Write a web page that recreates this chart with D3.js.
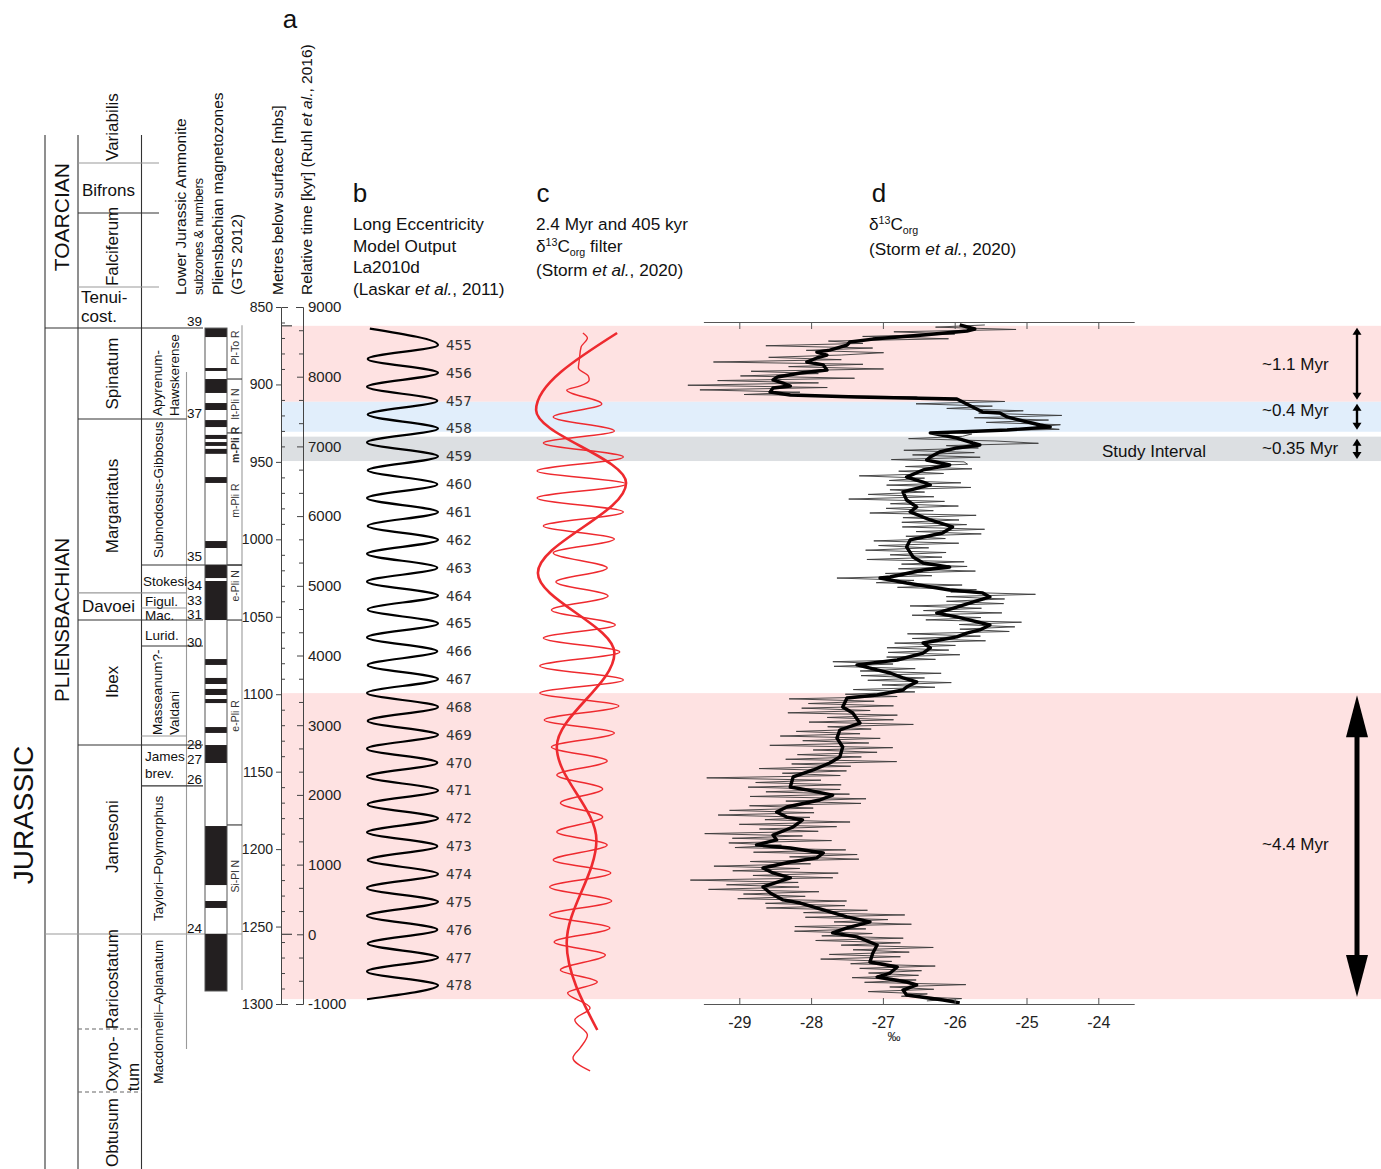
<!DOCTYPE html>
<html><head><meta charset="utf-8">
<script src="https://cdn.jsdelivr.net/npm/d3@7"></script>
<style>
body{margin:0;background:#fff}
svg{display:block}
text{font-family:"Liberation Sans",Arial,Helvetica,sans-serif;fill:#111}
</style>
</head><body>
<svg id="fig" width="1381" height="1169"></svg>
<script>
// ---------------- data ----------------
// shaded intervals (relative time, kyr)
const bandTop    = [8730, 7640, 7140, 3460];
const bandBottom = [7640, 7210, 6790, -930];
const bandKind   = ["pink", "blue", "grey", "pink"];
const bandLabel  = ["~1.1 Myr", "~0.4 Myr", "~0.35 Myr", "~4.4 Myr"];

// depth axis (metres below surface) and relative time axis (kyr)
const depthTicks = [850, 900, 950, 1000, 1050, 1100, 1150, 1200, 1250, 1300];
const timeTicks  = [9000, 8000, 7000, 6000, 5000, 4000, 3000, 2000, 1000, 0, -1000];

// long eccentricity (La2010d): 405-kyr cycle numbers, maxima and minima (normalised)
const eccCycle     = [455,456,457,458,459,460,461,462,463,464,465,466,467,468,469,470,471,472,473,474,475,476,477,478];
const eccPeakKyr   = [8455,8055,7656,7257,6857,6458,6058,5659,5259,4860,4460,4061,3662,3262,2863,2463,2064,1664,1265,866,466,67,-333,-732];
const eccPeakVal   = [1.0,1.0,0.99,1.0,1.0,0.99,1.0,1.0,0.99,1.0,1.0,0.99,1.0,1.0,1.0,0.99,1.0,1.0,0.99,1.0,1.0,0.99,1.0,1.0];
const eccTroughKyr = [8690,8255,7855,7456,7057,6657,6258,5858,5459,5059,4660,4260,3861,3462,3062,2663,2263,1864,1464,1065,666,266,-133,-532,-932];
const eccTroughVal = [0.04,0.01,0.0,0.01,0.0,0.01,0.0,0.01,0.0,0.0,0.01,0.0,0.01,0.0,0.01,0.0,0.0,0.01,0.0,0.01,0.0,0.0,0.01,0.0,0.0];

// 2.4 Myr filter of d13C_org
const f24Kyr = [8627, 7522, 6475, 5184, 4036, 2687, 1353, -125, -1373];
const f24Val = [0.39, -0.51, 0.49, -0.49, 0.36, -0.28, 0.16, -0.17, 0.17];

// 405 kyr filter of d13C_org
const f405Kyr = [8627,8555,8426,8240,8125,8010,7953,7867,7809,7608,7422,7221,7049,6848,6647,6461,6260,6059,5858,5671,5471,5255,5055,4854,4653,4438,4251,4050,3849,3649,3462,3276,3075,2888,2687,2487,2286,2085,1884,1683,1468,1281,1066,880,679,478,277,91,-110,-297,-512,-684,-842,-1057,-1229,-1445,-1631,-1774,-1961];
const f405Val = [0.01,0.06,-0.01,-0.03,-0.04,0.07,0.08,-0.02,-0.17,0.22,-0.32,0.36,-0.43,0.46,-0.50,0.49,-0.50,0.46,-0.43,0.36,-0.32,0.28,-0.29,0.29,-0.34,0.37,-0.43,0.42,-0.47,0.46,-0.47,0.41,-0.42,0.36,-0.34,0.28,-0.28,0.23,-0.24,0.23,-0.28,0.28,-0.32,0.32,-0.36,0.33,-0.36,0.31,-0.31,0.26,-0.24,0.17,-0.16,0.09,-0.08,0.06,-0.02,-0.10,0.09];

// d13C_org smoothed record (depth m, permil)
const isoDepth = [861.6,864.2,865.5,868.1,870.7,872.6,874.6,877.8,879.1,881.0,882.9,885.5,887.4,890.7,892.6,895.2,897.1,899.1,901.0,902.3,904.9,906.8,908.1,909.4,914.6,917.8,918.4,921.0,926.2,927.5,929.4,930.7,931.3,934.6,937.8,939.1,941.0,943.6,946.8,948.8,952.0,955.2,959.8,963.0,964.9,969.4,974.6,979.1,982.3,987.5,992.0,995.9,1000.4,1004.9,1011.4,1015.3,1017.9,1019.8,1024.3,1025.0,1028.2,1032.7,1034.6,1037.2,1040.5,1043.7,1047.6,1050.1,1055.3,1058.5,1060.5,1063.0,1065.0,1066.9,1070.1,1073.4,1077.9,1079.8,1081.1,1084.3,1086.3,1089.5,1092.1,1095.3,1097.3,1100.5,1102.4,1108.2,1112.1,1118.6,1123.1,1128.3,1134.1,1140.5,1144.4,1148.9,1153.4,1159.9,1161.8,1165.1,1168.3,1172.8,1176.0,1179.3,1181.2,1185.7,1190.9,1194.1,1197.3,1199.3,1202.5,1205.7,1208.3,1212.2,1215.4,1218.6,1224.4,1228.3,1232.8,1234.8,1239.3,1243.8,1247.0,1250.9,1254.1,1256.7,1261.9,1267.1,1272.9,1276.1,1280.0,1282.6,1285.8,1287.7,1291.0,1294.2,1297.4,1299.3];
const isoVal = [-25.93,-25.72,-25.83,-26.44,-27.14,-27.46,-27.50,-27.74,-27.92,-27.78,-27.92,-28.06,-27.83,-27.78,-28.15,-28.47,-28.53,-28.39,-28.29,-28.53,-28.57,-28.29,-27.36,-25.97,-25.75,-25.61,-25.37,-25.27,-24.81,-24.67,-25.27,-25.97,-26.34,-25.97,-25.75,-25.65,-25.97,-26.21,-26.34,-26.39,-26.07,-26.44,-26.67,-26.44,-26.34,-26.72,-26.67,-26.53,-26.62,-26.34,-26.03,-26.17,-26.62,-26.67,-26.58,-26.44,-26.07,-26.44,-26.90,-27.04,-26.67,-26.07,-25.61,-25.51,-25.75,-25.97,-26.25,-25.97,-25.51,-25.65,-25.83,-25.97,-26.21,-26.44,-26.34,-26.44,-26.80,-27.14,-27.36,-27.08,-26.90,-26.72,-26.53,-26.67,-26.72,-27.08,-27.50,-27.56,-27.42,-27.32,-27.60,-27.64,-27.56,-27.60,-27.74,-27.97,-28.25,-28.29,-28.06,-27.70,-27.88,-28.34,-28.48,-28.34,-28.12,-28.25,-28.53,-28.48,-28.76,-28.29,-27.83,-27.92,-28.29,-28.67,-28.53,-28.29,-28.67,-28.57,-28.39,-28.15,-27.83,-27.50,-27.18,-27.50,-27.70,-27.36,-27.08,-27.14,-27.18,-26.80,-26.90,-27.08,-26.67,-26.53,-26.72,-26.67,-26.16,-25.93];

// raw d13C_org measurements, as departures (permil) from the smoothed record, every 1.5 m from 861.5 m
const rawStart = 861.5, rawStep = 1.5;
const rawResid = [
 0.35,-0.45,0.6,-0.9,0.3,-0.6,1.0,-0.4,0.2,-1.1,0.5,-0.3,0.9,0.2,-0.7,0.4,-1.3,0.6,-0.5,0.8,-0.9,0.3,-0.6,1.1,-0.8,0.5,-1.4,0.7,-1.0,0.4,-0.6,0.9,-0.5,
 0.6,-0.7,0.3,-0.4,0.6,-0.3,0.8,-0.5,0.4,-0.6,0.3,-0.2,0.6,-0.3,0.5,0.2,-0.7,0.4,0.9,-0.4,0.3,-0.6,0.5,-0.3,0.7,-0.5,0.4,
 0.3,-0.5,0.6,-0.3,0.4,-0.7,0.2,-0.4,0.5,-0.6,0.7,-0.3,0.3,-0.5,0.4,-0.8,0.5,-0.3,0.6,-0.4,
 0.3,-0.6,0.8,-0.3,0.4,-0.5,0.3,-0.7,0.5,-0.4,0.6,-0.3,0.4,-0.5,0.7,-0.4,0.3,-0.6,0.5,-0.3,
 0.4,-0.7,0.6,-0.4,0.3,-0.5,0.8,-0.3,0.5,-0.6,0.3,-0.4,0.6,-0.5,0.4,-0.3,0.7,-0.6,0.3,-0.4,
 0.5,-0.7,0.4,-0.3,0.9,-0.5,0.3,-0.6,0.6,-0.4,0.4,-0.3,0.5,-0.8,0.3,-0.5,0.7,-0.4,0.4,-0.6,
 0.3,-0.5,0.6,-0.3,0.5,-0.7,0.4,-0.4,0.6,-0.3,0.7,-0.5,0.3,-0.6,0.5,-0.4,0.4,-0.7,0.3,-0.5,
 0.5,-0.8,0.4,-0.5,0.7,-0.6,0.3,-0.9,0.6,-0.4,0.5,-0.7,0.8,-0.3,0.4,-0.6,0.3,-0.8,0.6,-0.5,
 0.4,-1.0,0.7,-0.4,0.5,-0.6,0.3,-0.7,0.9,-0.5,0.4,-0.8,0.5,-0.3,0.6,-1.2,0.4,-0.5,0.7,-0.6,
 0.5,-0.7,0.3,-1.1,0.6,-0.4,0.8,-0.6,0.4,-0.7,0.5,-0.9,0.3,-0.5,0.7,-0.8,0.6,-0.4,0.5,-1.0,
 0.4,-0.6,0.8,-0.5,0.3,-0.7,0.6,-0.9,0.5,-0.4,0.7,-0.6,0.4,-0.8,0.5,-0.5,0.9,-0.4,0.6,-1.3,
 0.3,-0.6,0.5,-0.8,0.7,-0.4,0.4,-0.6,0.8,-0.5,0.5,-0.7,0.6,-0.4,0.9,-0.6,0.4,-0.5,0.7,-0.8,
 0.3,-0.6,0.5,-0.4,0.6,-0.7,0.4,-0.5,0.8,-0.3,0.5,-0.6,0.4,-0.7,0.3,-0.4,0.6,-0.5,0.4,-0.3,
 0.5,-0.4,0.3,-0.6,0.7,-0.3,0.4,-0.5,0.3,-0.2,0.4,-0.3];
const isoTicks = [-29, -28, -27, -26, -25, -24];

// stratigraphy (depth, m)
const stageNames = ["TOARCIAN", "PLIENSBACHIAN"];
const stageLabelDepth = [792, 1052];
const zoneNames  = ["Variabilis","Bifrons","Falciferum","Tenui-|cost.","Spinatum","Margaritatus","Davoei","Ibex","Jamesoni","Raricostatum","Oxyno-|tum","Obtusum"];
const zoneTop    = [739.0, 757.0, 789.3, 837.1, 863.6, 922.3, 1034.6, 1052.1, 1132.8, 1254.8, 1316.1, 1356.8];
const zoneBase   = [757.0, 789.3, 837.1, 863.6, 922.3, 1034.6, 1052.1, 1132.8, 1254.8, 1316.1, 1356.8, 1406.5];
const subzoneNames = ["Apyrenum-|Hawskerense","Subnodosus-Gibbosus","Stokesi","Figul.","Mac.","Lurid.","Masseanum?-|Valdani","James|brev.","Taylori\u2013Polymorphus","Macdonnelli\u2013Aplanatum"];
const subzoneTop  = [863.6, 922.3, 1016.6, 1034.6, 1044.3, 1052.1, 1068.9, 1132.8, 1159.2, 1254.8];
const subzoneBase = [922.3, 1016.6, 1034.6, 1044.3, 1052.1, 1068.9, 1127.0, 1159.2, 1254.8, 1329.0];
const subzoneNum  = ["39","37","35","34","33","31","30","28","27","26","24"];
const subzoneNumDepth = [862.4, 921.8, 1014.2, 1033.0, 1042.4, 1051.3, 1069.2, 1135.1, 1144.8, 1157.7, 1254.1];
const chronBlack = [[863.6,869.4],[889.4,891.3],[896.5,905.5],[912.0,916.5],[923.0,927.5],[932.6,935.2],[937.2,939.7],[941.6,944.8],[959.8,963.6],[1001.1,1005.6],[1016.6,1025.0],[1026.9,1052.1],[1077.3,1081.1],[1089.5,1093.4],[1096.6,1100.5],[1103.1,1105.7],[1121.2,1125.0],[1132.8,1144.4],[1185.1,1223.2],[1233.5,1238.0],[1254.8,1291.6]];
const chronNames = ["Pl-To R","lt-Pli N","m-Pli R","m-Pli R","e-Pli N","e-Pli R","Si-Pl N"];
const chronLabelDepth = [876.2, 912.6, 939.0, 975.0, 1030.0, 1114.0, 1217.5];
const chronBounds = [896.5, 931.3, 1016.6, 1052.1, 1184.4];

// ---------------- drawing ----------------
const svg = d3.select("#fig");
const yDepth = d3.scaleLinear().domain([850, 1300]).range([307, 1004]);
const yTime  = d3.scaleLinear().domain([9000, -1000]).range([307, 1004]);
const xEcc   = d3.scaleLinear().domain([0, 1]).range([367, 438]);
const xFilt  = d3.scaleLinear().domain([-0.5, 0.5]).range([537, 627]);
const xIso   = d3.scaleLinear().domain([-29.5, -23.5]).range([703.4, 1134.2]);
const bandFill = {pink: "#fee2e2", blue: "#e1eefb", grey: "#dcdfe2"};
const plain = d => String(d);

// shaded intervals
svg.append("g").selectAll("rect").data(bandTop).join("rect")
  .attr("x", 281).attr("width", 1100)
  .attr("y", d => yTime(d))
  .attr("height", (d, i) => yTime(bandBottom[i]) - yTime(d))
  .attr("fill", (d, i) => bandFill[bandKind[i]]);

// ---- helpers for text
function txt(g, x, y, s, size, opt = {}) {
  const t = g.append("text").attr("x", x).attr("y", y).attr("font-size", size);
  if (opt.anchor) t.attr("text-anchor", opt.anchor);
  if (opt.weight) t.attr("font-weight", opt.weight);
  if (opt.fill) t.style("fill", opt.fill);
  if (opt.family) t.style("font-family", opt.family);
  t.text(s);
  return t;
}
function vtxt(g, x, y, s, size, opt = {}) {
  const t = g.append("text").attr("transform", `translate(${x},${y}) rotate(-90)`)
    .attr("font-size", size).attr("text-anchor", opt.anchor || "middle")
    .attr("dominant-baseline", "central");
  if (opt.weight) t.attr("font-weight", opt.weight);
  if (opt.ls) t.attr("letter-spacing", opt.ls);
  if (opt.fill) t.style("fill", opt.fill);
  t.text(s);
  return t;
}

// ---------------- stratigraphic columns ----------------
const strat = svg.append("g");
const dark = "#333", lite = "#9a9a9a";
function hline(d, x1, x2, c, dash) {
  const l = strat.append("line").attr("x1", x1).attr("x2", x2)
    .attr("y1", yDepth(d)).attr("y2", yDepth(d)).attr("stroke", c).attr("stroke-width", 1.1);
  if (dash) l.attr("stroke-dasharray", "4,3");
}
function vline(x, d1, d2, c) {
  strat.append("line").attr("x1", x).attr("x2", x)
    .attr("y1", yDepth(d1)).attr("y2", yDepth(d2)).attr("stroke", c).attr("stroke-width", 1.1);
}
vline(45, zoneTop[0], zoneBase[11], dark);
vline(78, zoneTop[0], zoneBase[11], dark);
vline(141.5, zoneTop[0], zoneBase[11], dark);
vline(186.5, 892.0, subzoneBase[9], lite);
vline(242, 861.8, 1291.0, lite);

// zone boundaries
hline(zoneTop[1], 78, 159, lite);
hline(zoneTop[2], 78, 159, dark);
hline(zoneTop[3], 78, 159, lite);
hline(zoneTop[4], 45, 203, dark);
hline(zoneTop[5], 78, 186.5, dark);
hline(zoneTop[6], 78, 141.5, lite);
hline(zoneTop[7], 78, 203, dark);
hline(zoneTop[8], 78, 203, dark);
hline(zoneTop[9], 45, 242, lite);
hline(zoneTop[10], 78, 141.5, "#666", true);
hline(zoneTop[11], 78, 141.5, "#666", true);
// subzone boundaries
hline(subzoneTop[2], 141.5, 242, dark);
hline(subzoneTop[3], 141.5, 186.5, lite);
hline(subzoneTop[4], 141.5, 186.5, lite);
hline(subzoneTop[6], 141.5, 203, dark);
hline(subzoneBase[6], 141.5, 186.5, lite);
hline(subzoneTop[8], 141.5, 203, dark);
// magnetozone label boxes
chronBounds.forEach(d => hline(d, 227, 242, dark));

// stage labels
vtxt(strat, 61, yDepth(stageLabelDepth[0]), stageNames[0], 21);
vtxt(strat, 61, yDepth(stageLabelDepth[1]), stageNames[1], 20.5);
vtxt(strat, 23, yDepth(1178), "JURASSIC", 28);

// zone labels
const zoneCfg = [
  {rot: true, anchor: "start", d: 755.7},
  {rot: false, d: 774.5},
  {rot: true, anchor: "start", d: 836.5},
  {rot: false, d: 850},
  {rot: true, d: 893},
  {rot: true, d: 978.5},
  {rot: false, d: 1043},
  {rot: true, d: 1092},
  {rot: true, d: 1192},
  {rot: true, d: 1284},
  {rot: true, anchor: "start", d: 1356.3, two: true},
  {rot: true, d: 1383}
];
zoneNames.forEach((name, i) => {
  const c = zoneCfg[i];
  const parts = name.split("|");
  if (c.rot) {
    if (c.two) {
      vtxt(strat, 112, yDepth(c.d), parts[0], 17, {anchor: "start"});
      vtxt(strat, 133, yDepth(c.d), parts[1], 17, {anchor: "start"});
    } else {
      vtxt(strat, 112, yDepth(c.d), name, 17, {anchor: c.anchor || "middle"});
    }
  } else if (parts.length === 2) {
    txt(strat, 81, yDepth(c.d) - 4, parts[0], 17);
    txt(strat, 81, yDepth(c.d) + 15, parts[1], 17);
  } else {
    txt(strat, 82, yDepth(c.d) + 6, name, 17);
  }
});

// subzone labels
const subCfg = [
  {rot: true, two: true, d: 920.4},
  {rot: true, d: 968},
  {rot: false, x: 143, d: 1030},
  {rot: false, x: 145, d: 1043.2},
  {rot: false, x: 145, d: 1051.8},
  {rot: false, x: 145, d: 1064.8},
  {rot: true, two: true, d: 1126.3},
  {rot: false, two: true, x: 145, d: 1144.5},
  {rot: true, d: 1206},
  {rot: true, d: 1305}
];
subzoneNames.forEach((name, i) => {
  const c = subCfg[i];
  const parts = name.split("|");
  if (c.rot && c.two) {
    vtxt(strat, 157, yDepth(c.d), parts[0], 13.5, {anchor: "start"});
    vtxt(strat, 174, yDepth(c.d), parts[1], 13.5, {anchor: "start"});
  } else if (c.rot) {
    vtxt(strat, 158, yDepth(c.d), name, 13.5);
  } else if (c.two) {
    txt(strat, c.x, yDepth(c.d) - 2, parts[0], 13.5);
    txt(strat, c.x, yDepth(c.d) + 15, parts[1], 13.5);
  } else {
    txt(strat, c.x, yDepth(c.d), name, 13.5);
  }
});
subzoneNum.forEach((n, i) => txt(strat, 187, yDepth(subzoneNumDepth[i]), n, 13.5));

// magnetostratigraphy bar
strat.append("g").selectAll("rect").data(chronBlack).join("rect")
  .attr("x", 205).attr("width", 22)
  .attr("y", d => yDepth(d[0])).attr("height", d => yDepth(d[1]) - yDepth(d[0]))
  .attr("fill", "#231f20");
strat.append("rect").attr("x", 205).attr("width", 22)
  .attr("y", yDepth(863.6)).attr("height", yDepth(1291.6) - yDepth(863.6))
  .attr("fill", "none").attr("stroke", "#555").attr("stroke-width", 1);
chronNames.forEach((n, i) => vtxt(strat, 235, yDepth(chronLabelDepth[i]), n, 10.5,
  {weight: i === 2 ? "bold" : null, fill: "#333"}));

// column headers
const hdr = svg.append("g");
vtxt(hdr, 180, 295, "Lower Jurassic Ammonite", 15.5, {anchor: "start"});
vtxt(hdr, 198, 295, "subzones & numbers", 13.2, {anchor: "start", ls: "-0.4"});
vtxt(hdr, 217, 295, "Pliensbachian magnetozones", 15.5, {anchor: "start"});
vtxt(hdr, 236, 295, "(GTS 2012)", 15.5, {anchor: "start"});
vtxt(hdr, 277, 295, "Metres below surface [mbs]", 15.5, {anchor: "start"});
const rt = hdr.append("text").attr("transform", "translate(306,295) rotate(-90)")
  .attr("font-size", 15.5).attr("dominant-baseline", "central");
rt.append("tspan").text("Relative time [kyr] (Ruhl ");
rt.append("tspan").attr("font-style", "italic").text("et al.");
rt.append("tspan").text(", 2016)");
txt(hdr, 290, 28, "a", 26, {anchor: "middle"});

// ---------------- depth & time axes ----------------
const axDepth = svg.append("g").attr("transform", "translate(281,0)")
  .call(d3.axisLeft(yDepth).tickValues(depthTicks).tickFormat(plain)
    .tickSizeInner(5).tickSizeOuter(-7).tickPadding(3));
const depthMinor = d3.range(860, 1300, 10).filter(v => v % 50 !== 0);
svg.append("g").attr("transform", "translate(281,0)")
  .call(d3.axisRight(yDepth).tickValues(depthMinor).tickSize(4).tickFormat(""))
  .call(g => g.select(".domain").remove());
const axTime = svg.append("g").attr("transform", "translate(303,0)")
  .call(d3.axisRight(yTime).tickValues(timeTicks).tickFormat(plain)
    .tickSizeInner(-6).tickSizeOuter(-7).tickPadding(5));
const timeMinor = d3.range(-1000, 9000, 1000).flatMap(v => [v + 1000 / 3, v + 2000 / 3]);
svg.append("g").attr("transform", "translate(303,0)")
  .call(d3.axisRight(yTime).tickValues(timeMinor).tickSizeInner(-4).tickFormat(""))
  .call(g => g.select(".domain").remove());
axDepth.selectAll("text").attr("font-size", 14)
  .style("font-family", "'Liberation Sans',Arial,sans-serif").style("fill", "#222");
axTime.selectAll("text").attr("font-size", 15)
  .style("font-family", "'Liberation Sans',Arial,sans-serif").style("fill", "#222");
svg.selectAll(".domain, .tick line").attr("stroke", "#444");
// small marks where the shaded record begins and at time zero
[bandTop[0], 0].forEach(k => svg.append("line")
  .attr("x1", 282).attr("x2", 292).attr("y1", yTime(k)).attr("y2", yTime(k))
  .attr("stroke", "#444").attr("stroke-width", 1.2));

// ---------------- panel b: long eccentricity ----------------
const eccPts = eccTroughKyr.map((k, i) => [k, eccTroughVal[i]])
  .concat(eccPeakKyr.map((k, i) => [k, eccPeakVal[i]]))
  .sort((a, b) => b[0] - a[0]);
svg.append("path").datum(eccPts)
  .attr("d", d3.line().x(d => xEcc(d[1])).y(d => yTime(d[0])).curve(d3.curveMonotoneY))
  .attr("fill", "none").attr("stroke", "#000").attr("stroke-width", 2.2);
eccCycle.forEach((c, i) => txt(svg, 446, yTime(eccPeakKyr[i]) + 5, c, 13.5,
  {family: "'DejaVu Sans',Verdana,sans-serif", fill: "#333"}));

txt(svg, 360, 202, "b", 26, {anchor: "middle"});
["Long Eccentricity", "Model Output", "La2010d"].forEach((s, i) => txt(svg, 353, 230 + i * 21.7, s, 17.2));
const lb = svg.append("text").attr("x", 353).attr("y", 295).attr("font-size", 17.2);
lb.append("tspan").text("(Laskar ");
lb.append("tspan").attr("font-style", "italic").text("et al.");
lb.append("tspan").text(", 2011)");

// ---------------- panel c: filters ----------------
const red = "#ee2a2f";
svg.append("path").datum(f405Kyr.map((k, i) => [k, f405Val[i]]))
  .attr("d", d3.line().x(d => xFilt(d[1])).y(d => yTime(d[0])).curve(d3.curveMonotoneY))
  .attr("fill", "none").attr("stroke", red).attr("stroke-width", 1.4);
svg.append("path").datum(f24Kyr.map((k, i) => [k, f24Val[i]]))
  .attr("d", d3.line().x(d => xFilt(d[1])).y(d => yTime(d[0])).curve(d3.curveMonotoneY))
  .attr("fill", "none").attr("stroke", red).attr("stroke-width", 2.6);

txt(svg, 543, 202, "c", 26, {anchor: "middle"});
txt(svg, 536, 230, "2.4 Myr and 405 kyr", 17.2);
function deltaC(x, y, size) {
  const t = svg.append("text").attr("x", x).attr("y", y).attr("font-size", size);
  t.append("tspan").text("\u03b4");
  t.append("tspan").attr("font-size", size * 0.62).attr("dy", -6).text("13");
  t.append("tspan").attr("dy", 6).text("C");
  t.append("tspan").attr("font-size", size * 0.62).attr("dy", 4).text("org");
  return t;
}
const dc = deltaC(536, 252, 17.2);
dc.append("tspan").attr("dy", -4).text(" filter");
const lc = svg.append("text").attr("x", 536).attr("y", 276).attr("font-size", 17.2);
lc.append("tspan").text("(Storm ");
lc.append("tspan").attr("font-style", "italic").text("et al.");
lc.append("tspan").text(", 2020)");

// ---------------- panel d: d13C_org ----------------
const rawPts = rawResid.map((r, i) => {
  const d = Math.min(Math.max(rawStart + i * rawStep, isoDepth[0]), isoDepth[isoDepth.length - 1]);
  const j = Math.max(1, d3.bisectLeft(isoDepth, d));
  const t = (d - isoDepth[j - 1]) / (isoDepth[j] - isoDepth[j - 1]);
  return [d, isoVal[j - 1] + t * (isoVal[j] - isoVal[j - 1]) + r];
});
svg.append("path").datum(rawPts)
  .attr("d", d3.line().x(d => xIso(d[1])).y(d => yDepth(d[0])))
  .attr("fill", "none").attr("stroke", "#3a3a3a").attr("stroke-width", 0.9);
svg.append("path").datum(isoDepth.map((d, i) => [d, isoVal[i]]))
  .attr("d", d3.line().x(d => xIso(d[1])).y(d => yDepth(d[0])))
  .attr("fill", "none").attr("stroke", "#000").attr("stroke-width", 3.4)
  .attr("stroke-linejoin", "round");

const axIsoB = svg.append("g").attr("transform", "translate(0,1004)")
  .call(d3.axisBottom(xIso).tickValues(isoTicks).tickFormat(plain)
    .tickSizeInner(-6).tickSizeOuter(0).tickPadding(13));
axIsoB.selectAll("text").attr("font-size", 16)
  .style("font-family", "'Liberation Sans',Arial,sans-serif").style("fill", "#222");
const axIsoT = svg.append("g").attr("transform", "translate(0,322)")
  .call(d3.axisTop(xIso).tickValues(isoTicks).tickSizeInner(-7).tickSizeOuter(0).tickFormat(""));
[axIsoB, axIsoT].forEach(a => a.selectAll(".domain, .tick line").attr("stroke", "#555"));
txt(svg, 894, 1041, "\u2030", 13, {anchor: "middle", fill: "#222"});

txt(svg, 879, 202, "d", 26, {anchor: "middle"});
deltaC(869, 230, 17.2);
const ld = svg.append("text").attr("x", 869).attr("y", 255).attr("font-size", 17.2);
ld.append("tspan").text("(Storm ");
ld.append("tspan").attr("font-style", "italic").text("et al.");
ld.append("tspan").text(", 2020)");

// ---------------- interval annotations ----------------
const ann = svg.append("g");
txt(ann, 1102, 457, "Study Interval", 17);
const labShift = [6, -1, 5, 4];
bandLabel.forEach((s, i) => {
  const y1 = yTime(bandTop[i]), y2 = yTime(bandBottom[i]);
  txt(ann, 1262, (y1 + y2) / 2 + labShift[i], s, 17);
  const big = i === 3;
  const hl = big ? 42 : 7, hw = big ? 11 : 4.5, x = 1357;
  const a1 = y1 + 2, a2 = y2 - 2;
  ann.append("line").attr("x1", x).attr("x2", x).attr("y1", a1 + hl - 1).attr("y2", a2 - hl + 1)
    .attr("stroke", "#000").attr("stroke-width", big ? 5 : 2.4);
  ann.append("path").attr("d", `M${x},${a1}L${x - hw},${a1 + hl}L${x + hw},${a1 + hl}Z`).attr("fill", "#000");
  ann.append("path").attr("d", `M${x},${a2}L${x - hw},${a2 - hl}L${x + hw},${a2 - hl}Z`).attr("fill", "#000");
});
</script>
</body></html>
